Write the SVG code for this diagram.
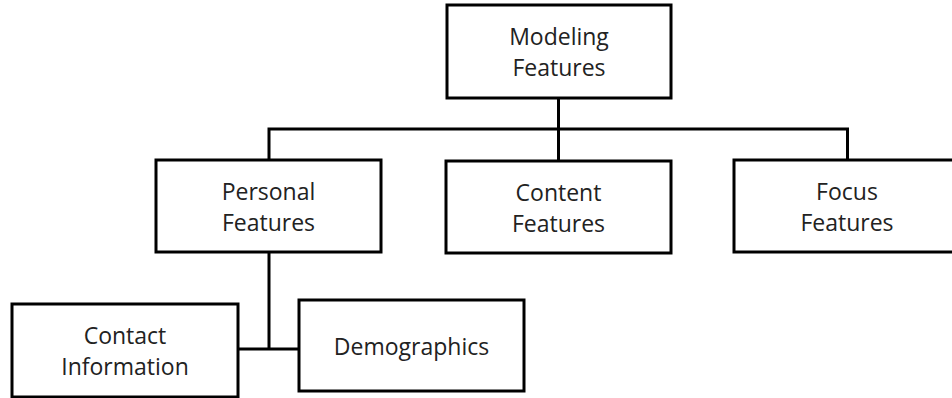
<svg xmlns="http://www.w3.org/2000/svg" width="952" height="398" viewBox="0 0 952 398">
<style>
.box{fill:#fff;stroke:#000;stroke-width:3}
.lbl{font-family:"Open Sans","Liberation Sans",sans-serif;font-size:23px;fill:#222;text-anchor:middle}
.con{fill:none;stroke:#000;stroke-width:3}
</style>
<rect width="952" height="398" fill="#fff"/>
<g id="connectors">
<path class="con" d="M558.5 98 V129 M269 129 H847.5 M269 127.5 V160 M558.5 129 V160 M847.5 127.5 V160"/>
<path class="con" d="M269 252 V349 M238 349 H299"/>
</g>
<g id="modeling">
<rect class="box" x="447" y="5" width="224" height="93"/>
<text class="lbl" x="559" y="45">Modeling</text>
<text class="lbl" x="559" y="76">Features</text>
</g>
<g id="personal">
<rect class="box" x="156" y="160" width="225" height="92"/>
<text class="lbl" x="268.5" y="200">Personal</text>
<text class="lbl" x="268.5" y="231">Features</text>
</g>
<g id="content">
<rect class="box" x="446" y="161" width="225" height="92"/>
<text class="lbl" x="558.5" y="201">Content</text>
<text class="lbl" x="558.5" y="232">Features</text>
</g>
<g id="focus">
<rect class="box" x="734" y="160" width="226" height="92"/>
<text class="lbl" x="847" y="200">Focus</text>
<text class="lbl" x="847" y="231">Features</text>
</g>
<g id="contact">
<rect class="box" x="12" y="304" width="226" height="93"/>
<text class="lbl" x="125" y="344">Contact</text>
<text class="lbl" x="125" y="375">Information</text>
</g>
<g id="demographics">
<rect class="box" x="299" y="300" width="225" height="91"/>
<text class="lbl" x="411.5" y="355">Demographics</text>
</g>
</svg>
